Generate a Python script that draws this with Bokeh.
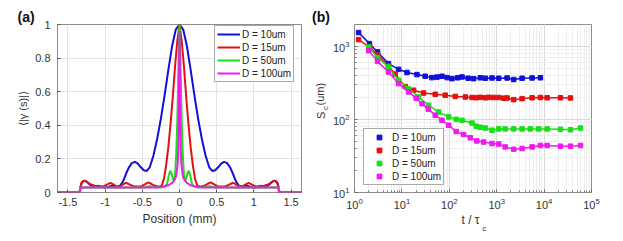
import math
from bokeh.plotting import figure
from bokeh.layouts import row
from bokeh.models import (Range1d, FixedTicker, Legend, LegendItem, Title)
from bokeh.embed import file_html
from bokeh.resources import INLINE

# ---------------- data: panel (a)  (half profiles, x >= 0, symmetric) ----------------
labels = ["D = 10um", "D = 15um", "D = 50um", "D = 100um"]
colors = ["#1010d8", "#e41010", "#18e018", "#ee1aee"]

blue_x = [0, 0.05, 0.1, 0.15, 0.2, 0.25, 0.3, 0.35, 0.4, 0.44, 0.48, 0.52, 0.56, 0.6, 0.64, 0.68,
          0.72, 0.76, 0.8, 0.85, 0.9, 0.95, 1.0, 1.05, 1.1, 1.15, 1.2, 1.25, 1.28, 1.31, 1.33, 1.345, 1.64]
blue_y = [1, 0.97, 0.87, 0.73, 0.58, 0.44, 0.32, 0.22, 0.15, 0.128, 0.132, 0.15, 0.172, 0.182, 0.175, 0.15,
          0.11, 0.065, 0.04, 0.035, 0.042, 0.035, 0.03, 0.035, 0.04, 0.035, 0.045, 0.065, 0.07, 0.06, 0.035, 0, 0]

red_x = [0, 0.03, 0.06, 0.09, 0.12, 0.15, 0.18, 0.21, 0.24, 0.28, 0.33, 0.38, 0.42, 0.46, 0.52, 0.6, 0.66,
         0.72, 0.78, 0.84, 0.89, 0.93, 0.98, 1.04, 1.12, 1.2, 1.26, 1.29, 1.32, 1.335, 1.345, 1.64]
red_y = [1, 0.9, 0.75, 0.57, 0.41, 0.27, 0.16, 0.08, 0.04, 0.035, 0.04, 0.052, 0.06, 0.05, 0.035, 0.035, 0.045,
         0.058, 0.042, 0.035, 0.048, 0.057, 0.045, 0.035, 0.038, 0.05, 0.068, 0.07, 0.055, 0.02, 0, 0]

green_x = [0, 0.01, 0.02, 0.03, 0.045, 0.06, 0.075, 0.09, 0.105, 0.125, 0.145, 0.165, 0.19, 0.25, 0.32, 0.4,
           0.48, 0.6, 0.8, 1.0, 1.2, 1.335, 1.345, 1.64]
green_y = [1, 0.85, 0.62, 0.42, 0.22, 0.1, 0.07, 0.08, 0.11, 0.13, 0.1, 0.055, 0.035, 0.03, 0.032, 0.038,
           0.03, 0.03, 0.03, 0.03, 0.03, 0.03, 0, 0]

mag_x = [0, 0.004, 0.008, 0.012, 0.018, 0.025, 0.035, 0.045, 0.055, 0.07, 0.09, 0.11, 0.14, 0.18, 0.22,
         0.3, 0.6, 1.0, 1.33, 1.335, 1.64]
mag_y = [0.96, 0.8, 0.55, 0.38, 0.25, 0.17, 0.13, 0.1, 0.085, 0.075, 0.06, 0.055, 0.045, 0.04, 0.035,
         0.03, 0.03, 0.03, 0.03, 0, 0]

xa_ticks = [-1.5, -1, -0.5, 0, 0.5, 1, 1.5]
xa_labels = ["-1.5", "-1", "-0.5", "0", "0.5", "1", "1.5"]
ya_ticks = [0, 0.2, 0.4, 0.6, 0.8, 1]
ya_labels = ["0", "0.2", "0.4", "0.6", "0.8", "1"]

# ---------------- data: panel (b) ----------------
b_t = [1.22, 2.07, 3.06, 5.2, 8.5, 12.8, 20.8, 31, 43, 55, 70, 90, 114, 150, 186, 250, 326, 452, 576, 798,
       1100, 1656, 2285, 3436, 5590, 8370]
b_s = [1535, 1084, 834, 578, 483, 437, 409, 388, 372, 378, 388, 372, 360, 370, 380, 365, 360, 370, 365, 368,
       365, 368, 350, 365, 368, 370]
r_t = [1.22, 2.1, 3.1, 5.2, 7.2, 11.8, 17.6, 28.7, 50.5, 82, 134, 218, 302, 372, 452, 576, 677, 863, 1101,
       1404, 1656, 2285, 3436, 5590, 8370, 11600, 22100, 36000]
r_s = [1230, 960, 760, 540, 415, 280, 250, 229, 220, 214, 206, 202, 199, 198, 200, 197, 200, 199, 199, 195,
       196, 186, 192, 197, 199, 197, 197, 196]
g_t = [2.0, 3.06, 5.2, 8.5, 13.8, 22.5, 36.6, 59.5, 97, 140, 186, 302, 372, 452, 576, 798, 1101, 1510, 2285,
       3436, 5100, 7700, 11600, 22100, 36000, 58600]
g_s = [975, 700, 520, 342, 263, 202, 156, 126, 108, 100, 97, 89, 80.5, 78, 76, 71, 74, 74, 74, 74, 74, 74,
       74, 73, 72, 76]
m_t = [2.0, 3.06, 5.2, 8.5, 13.8, 20, 26.6, 36, 50.5, 70, 97, 140, 200, 277, 380, 530, 798, 1100, 1510, 2285,
       3436, 5590, 8370, 11600, 22100, 36000, 58600]
m_s = [870, 620, 444, 308, 237, 195, 164, 138, 114, 97, 83, 68, 62, 56, 50.7, 49, 46.7, 46, 42, 39, 40, 42,
       44, 44, 43, 43, 44]

FONT = "Liberation Sans"
TXT = "#333333"


def mirror(xs, ys):
    fx = [-v for v in reversed(xs[1:])] + list(xs)
    fy = list(reversed(ys[1:])) + list(ys)
    return fx, fy


def style(p):
    p.outline_line_color = "#8c8c8c"
    p.outline_line_width = 1
    p.background_fill_color = "white"
    p.border_fill_color = "white"
    for ax in p.axis:
        ax.axis_line_color = None
        ax.major_tick_in = 3
        ax.major_tick_out = 0
        ax.major_tick_line_color = "#555555"
        ax.minor_tick_in = 2
        ax.minor_tick_out = 0
        ax.minor_tick_line_color = "#777777"
        ax.major_label_text_font = FONT
        ax.major_label_text_font_size = "11px"
        ax.major_label_text_color = TXT
        ax.axis_label_text_font = FONT
        ax.axis_label_text_font_style = "normal"
        ax.axis_label_text_font_size = "12px"
        ax.axis_label_text_color = TXT


def panel_title(p, text, offset):
    p.title.text = text
    p.title.align = "left"
    p.title.offset = offset
    p.title.standoff = 0
    p.title.vertical_align = "bottom"
    p.title.text_font = FONT
    p.title.text_font_size = "14px"
    p.title.text_font_style = "bold"
    p.title.text_color = "#111111"


def side_text(p, side, text, size, offset, standoff):
    p.add_layout(Title(text=text, align="left", offset=offset, standoff=standoff,
                       vertical_align="middle", text_font=FONT, text_font_size=size,
                       text_font_style="normal", text_color=TXT), side)


# ---------------- panel (a) ----------------
pa = figure(width=310, height=233, x_range=Range1d(-1.64, 1.64), y_range=Range1d(0, 1),
            output_backend="svg", toolbar_location=None,
            min_border_left=57, min_border_right=9, min_border_top=24, min_border_bottom=41)
style(pa)
panel_title(pa, "(a)", -40)
pa.xaxis.ticker = FixedTicker(ticks=xa_ticks)
pa.yaxis.ticker = FixedTicker(ticks=ya_ticks)
pa.xaxis.major_label_overrides = {t: l for t, l in zip(xa_ticks, xa_labels)}
pa.yaxis.major_label_overrides = {t: l for t, l in zip(ya_ticks, ya_labels)}
pa.xaxis.minor_tick_line_color = None
pa.yaxis.minor_tick_line_color = None
pa.xaxis.major_label_standoff = 5
pa.yaxis.major_label_standoff = 7
pa.xaxis.axis_label = "Position (mm)"
pa.xaxis.axis_label_standoff = 3
pa.yaxis.axis_label = "⟨|γ (s)|⟩"
pa.yaxis.axis_label_standoff = 3
pa.yaxis.axis_label_text_font_size = "11px"
pa.grid.grid_line_color = "#e4e4e4"

rends_a = []
for (xs, ys), c in zip([(blue_x, blue_y), (red_x, red_y), (green_x, green_y), (mag_x, mag_y)], colors):
    fx, fy = mirror(xs, ys)
    rends_a.append(pa.line(fx, fy, line_color=c, line_width=2))

leg_a = Legend(items=[LegendItem(label=l, renderers=[r]) for l, r in zip(labels, rends_a)],
               location=(157, 110), glyph_width=23, glyph_height=12, label_height=12, spacing=1,
               padding=2, margin=0, label_standoff=2, label_text_font=FONT, label_text_font_size="10px",
               label_text_color="#222222", border_line_color="#555555", border_line_width=1,
               background_fill_alpha=1)
pa.add_layout(leg_a)

# ---------------- panel (b) ----------------
pb = figure(width=305, height=233, x_axis_type="log", y_axis_type="log",
            x_range=Range1d(1, 1e5), y_range=Range1d(10, 1980),
            output_backend="svg", toolbar_location=None,
            min_border_left=44, min_border_right=24, min_border_top=24, min_border_bottom=41)
style(pb)
panel_title(pb, "(b)", -42.5)
pb.xaxis.major_label_standoff = 5
pb.yaxis.major_label_standoff = 5
pb.xgrid.grid_line_color = "#d8d8d8"
pb.ygrid.grid_line_color = "#d8d8d8"
pb.xgrid.minor_grid_line_color = "#eeeeee"
pb.ygrid.minor_grid_line_color = "#eeeeee"

# axis titles built from pieces (subscript "c")
side_text(pb, "below", "t / τ", "12px", 107, 0.8)
side_text(pb, "below", "c", "8px", 127.7, -18)
side_text(pb, "left", "c", "8px", 82.5, -1.6)
side_text(pb, "left", "S", "11px", 73.5, -17.25)
side_text(pb, "left", "(um)", "11px", 87, -12.05)

rends_b = []
for (ts, ss), c in zip([(b_t, b_s), (r_t, r_s), (g_t, g_s), (m_t, m_s)], colors):
    pb.line(ts, ss, line_color=c, line_width=1.5)
    rends_b.append(pb.scatter(ts, ss, marker="square", size=4.5, fill_color=c, line_color=c))

leg_b = Legend(items=[LegendItem(label=l, renderers=[r]) for l, r in zip(labels, rends_b)],
               location=(9, 7), glyph_width=26, glyph_height=12, label_height=12, spacing=1,
               padding=2, margin=0, label_standoff=0, label_text_font=FONT, label_text_font_size="10px",
               label_text_color="#222222", border_line_color="#555555", border_line_width=1,
               background_fill_alpha=1)
pb.add_layout(leg_b)

layout = row(pa, pb)
open("out.html", "w").write(file_html(layout, INLINE))
